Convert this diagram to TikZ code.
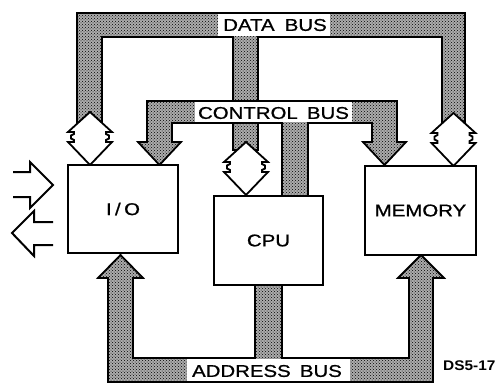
\documentclass[tikz,border=0pt]{standalone}
\usepackage{fontspec}
\setmainfont{Liberation Sans}
\newfontfamily\lblfont[FakeBold=0.8]{Liberation Sans}
\usepackage{graphicx}
\usetikzlibrary{patterns}
\tikzset{
  bus/.style={draw=black, line width=1.8pt, fill=gray!65, postaction={pattern=crosshatch dots, pattern color=black}},
  box/.style={draw=black, line width=1.9pt, fill=white, inner sep=0pt},
  lbl/.style={font=\lblfont\fontsize{17}{17}\selectfont, text=black, inner sep=0pt},
  openarrow/.style={draw=black, line width=2pt, line join=miter},
  dblarrow/.style={draw=black, fill=white, line width=1.8pt, line join=miter}
}
\newcommand\mydbl[2]{%
  \begin{scope}[shift={(#1,#2)}]
    \draw[dblarrow]
      (0,0) -- (22,20) -- (16,20) -- (16,22) -- (19,23.5) -- (19,26.5) -- (16,28) -- (16,30) -- (22,30)
      -- (0,53) -- (-22,30) -- (-16,30) -- (-16,28) -- (-19,26.5) -- (-19,23.5) -- (-16,22) -- (-16,20) -- (-22,20) -- cycle;
  \end{scope}}
\begin{document}
\begin{tikzpicture}[x=1pt,y=-1pt]
\useasboundingbox (0,0) rectangle (500,383);
% data bus
\path[bus] (77,125) -- (77,13) -- (465,13) -- (465,125) -- (442,125) -- (442,37) -- (258,37) -- (258,150) -- (233,150) -- (233,37) -- (102,37) -- (102,125) -- cycle;
% control bus
\path[bus] (147,101) -- (397,101) -- (397,142) -- (406,142) -- (384.5,165) -- (363,142) -- (372,142) -- (372,123) -- (308,123) -- (308,196) -- (282,196) -- (282,123) -- (172,123) -- (172,142) -- (181,142) -- (159.5,165) -- (138,142) -- (147,142) -- cycle;
% address bus
\path[bus] (108,382) -- (108,278) -- (98,278) -- (120.5,255) -- (143,278) -- (133,278) -- (133,358) -- (255,358) -- (255,285) -- (282,285) -- (282,358) -- (409,358) -- (409,278) -- (398,278) -- (421,255) -- (444,278) -- (433,278) -- (433,382) -- cycle;
% label backgrounds
\fill[white] (218,14) rectangle (330,36);
\fill[white] (195,102) rectangle (352,122);
\fill[white] (187,359) rectangle (350,381);
\node[lbl] (databus) at (275,25) {\scalebox{1.2}[1]{DATA\hspace{0.5em}BUS}};
\node[lbl] (ctrlbus) at (273.5,113) {\scalebox{1.2}[1]{CONTROL\hspace{0.45em}BUS}};
\node[lbl] (addrbus) at (267,371) {\scalebox{1.2}[1]{ADDRESS\hspace{0.45em}BUS}};
% double arrows
\mydbl{90}{112}
\mydbl{453.5}{113}
\mydbl{246}{142}
% boxes
\node[box, minimum width=110pt, minimum height=88pt] (io) at (123,209) {};
\node[box, minimum width=109pt, minimum height=89pt] (cpu) at (268.5,240.5) {};
\node[box, minimum width=111pt, minimum height=89pt] (mem) at (420.5,210.5) {};
\node[lbl] (iotxt) at (io.center) {\scalebox{1.2}[1]{I\,/\,O}};
\node[lbl] (cputxt) at (cpu.center) {\scalebox{1.2}[1]{CPU}};
\node[lbl] (memtxt) at (mem.center) {\scalebox{1.2}[1]{MEMORY}};
% external arrows
\draw[openarrow] (13,172) -- (30,172) -- (30,162) -- (53,185) -- (30,208) -- (30,197) -- (13,197);
\draw[openarrow] (53,222) -- (34,222) -- (34,211) -- (12,233) -- (34,256) -- (34,245) -- (53,245);
% figure id
\node[font=\bfseries\fontsize{14}{14}\selectfont, inner sep=0pt, anchor=west] (fig) at (443,366) {\scalebox{1.1}[1]{DS5-17}};
\end{tikzpicture}
\end{document}
